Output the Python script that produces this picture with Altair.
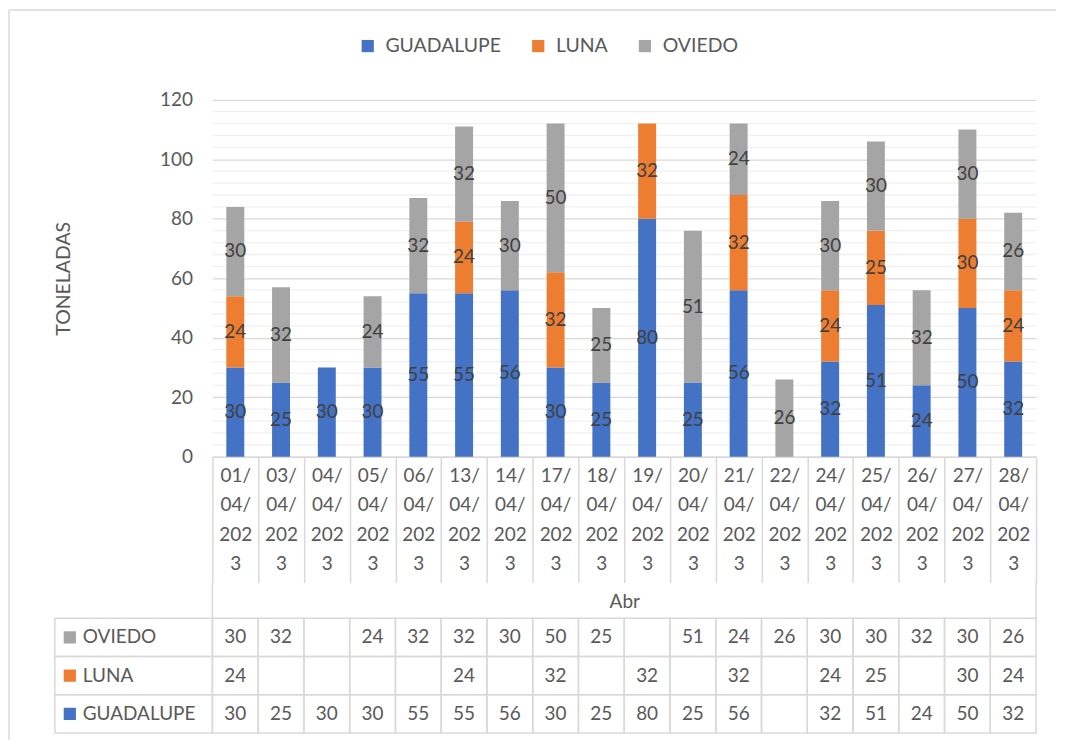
import altair as alt
import pandas as pd

# ---------------- data ----------------
dates = ["01/04/2023", "03/04/2023", "04/04/2023", "05/04/2023", "06/04/2023",
         "13/04/2023", "14/04/2023", "17/04/2023", "18/04/2023", "19/04/2023",
         "20/04/2023", "21/04/2023", "22/04/2023", "24/04/2023", "25/04/2023",
         "26/04/2023", "27/04/2023", "28/04/2023"]
guadalupe = [30, 25, 30, 30, 55, 55, 56, 30, 25, 80, 25, 56, None, 32, 51, 24, 50, 32]
luna = [24, None, None, None, None, 24, None, 32, None, 32, None, 32, None, 24, 25, None, 30, 24]
oviedo = [30, 32, None, 24, 32, 32, 30, 50, 25, None, 51, 24, 26, 30, 30, 32, 30, 26]
series = ["GUADALUPE", "LUNA", "OVIEDO"]
table_rows = ["OVIEDO", "LUNA", "GUADALUPE"]
colors = ["#4472C4", "#ED7D31", "#A5A5A5"]
month_label = "Abr"
y_title = "TONELADAS"
y_ticks = [0, 20, 40, 60, 80, 100, 120]
minor_grid = [v for v in range(4, 120, 4) if v % 20 != 0]

recs = []
for k, (name, vals) in enumerate(zip(series, [guadalupe, luna, oviedo])):
    for d, v in zip(dates, vals):
        recs.append({"date": d, "series": name, "order": k, "value": v})
df = pd.DataFrame(recs)
df_valid = df.dropna(subset=["value"])

# ---------------- style ----------------
FONT = "Lato"
TXT = "#595959"
LBL = "#404040"
GRID = "#D9D9D9"
MINOR = "#F0F0F0"
W, H = 826, 358
TABLE_H = 115

color_scale = alt.Scale(domain=series, range=colors)
x_scale = alt.Scale(domain=dates, paddingInner=0, paddingOuter=0)
y_scale = alt.Scale(domain=[0, 120], nice=False)

label_expr = ("[substring(datum.label,0,3), substring(datum.label,3,6), "
              "substring(datum.label,6,9), substring(datum.label,9,10)]")

x_axis = alt.Axis(
    title=month_label, labelExpr=label_expr, labelAngle=0, labelFontSize=19,
    labelColor=TXT, labelLineHeight=29.5, labelBaseline="top", labelPadding=-116.5,
    tickBand="extent", tickSize=126, tickColor=GRID, tickWidth=1.5,
    domainColor=GRID, domainWidth=1.5, grid=False,
    titleFontSize=19, titleColor=TXT, titleFontWeight="normal", titlePadding=9,
    labelFont=FONT, titleFont=FONT,
)
y_axis = alt.Axis(
    values=y_ticks, title=y_title, ticks=False, domain=False, grid=True,
    gridColor=GRID, gridWidth=1.3, labelFontSize=19, labelColor=TXT, labelPadding=20,
    titleFontSize=19.5, titleColor=TXT, titleFontWeight="normal", titlePadding=86,
    labelFont=FONT, titleFont=FONT,
)

stacked = alt.Chart(df_valid).transform_stack(
    stack="value", groupby=["date"], sort=[alt.SortField("order", order="ascending")],
    as_=["y0", "y1"],
).transform_calculate(mid="(datum.y0 + datum.y1) / 2")

minor = alt.Chart(pd.DataFrame({"v": minor_grid})).mark_rule(
    color=MINOR, strokeWidth=1.3
).encode(y=alt.Y("v:Q", scale=y_scale, axis=y_axis))

bars = stacked.mark_bar(size=18).encode(
    x=alt.X("date:N", sort=dates, scale=x_scale, axis=x_axis),
    y=alt.Y("y0:Q", scale=y_scale, axis=y_axis),
    y2="y1:Q",
    color=alt.Color("series:N", scale=color_scale, legend=alt.Legend(
        orient="none", direction="horizontal", legendX=146, legendY=-64, title=None,
        symbolType="square", symbolSize=150, symbolStrokeWidth=0, labelFontSize=19.5,
        labelColor=TXT, labelFont=FONT, labelOffset=8, columnPadding=27,
    )),
)

labels = stacked.mark_text(fontSize=19, color=LBL, font=FONT).encode(
    x=alt.X("date:N", sort=dates, scale=x_scale),
    y=alt.Y("mid:Q", scale=y_scale),
    text=alt.Text("value:Q", format="d"),
)

frame_src = alt.Chart(pd.DataFrame({"a": [0]}))
frame_top = frame_src.mark_rule(color=GRID, strokeWidth=1.5).encode(
    x=alt.value(-204), x2=alt.value(846), y=alt.value(-90))
frame_left = frame_src.mark_rule(color=GRID, strokeWidth=1.5).encode(
    x=alt.value(-204), y=alt.value(-90), y2=alt.value(645))

main = alt.layer(frame_top, frame_left, minor, bars, labels).properties(width=W, height=H)

# ---------------- data table ----------------
row_scale = alt.Scale(domain=table_rows, paddingInner=0, paddingOuter=0)
tx = alt.X("date:N", sort=dates, scale=x_scale, axis=None)
ty = alt.Y("series:N", scale=row_scale, axis=None)

cells = alt.Chart(df).mark_rect(fill="transparent", stroke=GRID, strokeWidth=1.5).encode(
    x=tx, y=ty)
cell_text = alt.Chart(df_valid).mark_text(fontSize=19, color=TXT, font=FONT).encode(
    x=tx, y=ty, text=alt.Text("value:Q", format="d"))

names = pd.DataFrame({"series": table_rows})
name_cells = alt.Chart(names).mark_rect(fill="transparent", stroke=GRID, strokeWidth=1.5).encode(
    x=alt.value(-158), x2=alt.value(0), y=ty)
name_sq = alt.Chart(names).mark_point(shape="square", filled=True, size=150, opacity=1).encode(
    x=alt.value(-143), y=ty, color=alt.Color("series:N", scale=color_scale, legend=None))
name_txt = alt.Chart(names).mark_text(fontSize=19, color=TXT, font=FONT, align="left").encode(
    x=alt.value(-130), y=ty, text="series:N")

edges = alt.Chart(pd.DataFrame({"a": [0]}))
left_edge = edges.mark_rule(color=GRID, strokeWidth=1.5).encode(
    x=alt.value(0), y=alt.value(-37), y2=alt.value(0))
right_edge = edges.mark_rule(color=GRID, strokeWidth=1.5).encode(
    x=alt.value(W), y=alt.value(-37), y2=alt.value(0))

table = alt.layer(cells, cell_text, name_cells, name_sq, name_txt, left_edge, right_edge).properties(
    width=W, height=TABLE_H)

chart = alt.vconcat(main, table, spacing=162, bounds="flush").properties(
    padding=0
).configure(font=FONT).configure_view(strokeWidth=0)

chart.save("out.html", embed_options={"renderer": "svg", "actions": False})
